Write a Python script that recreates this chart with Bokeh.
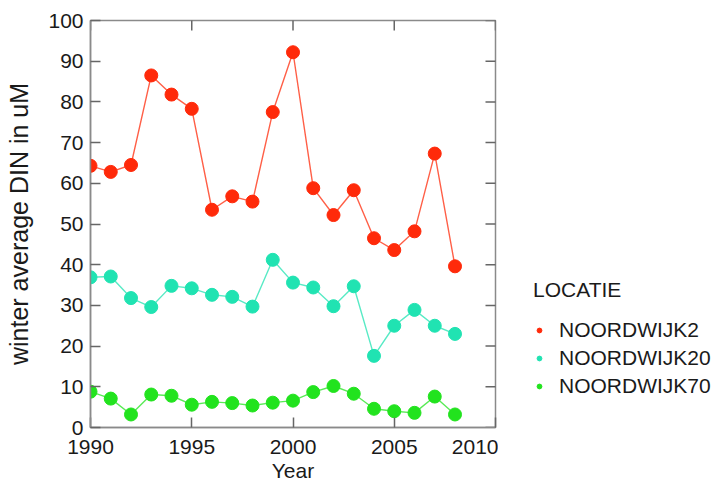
import math
from bokeh.plotting import figure
from bokeh.layouts import row
from bokeh.models import Range1d, FixedTicker, Legend, LegendItem, ColumnDataSource
from bokeh.embed import file_html
from bokeh.resources import INLINE

years = list(range(1990, 2009))
noordwijk2 = [64.3, 62.8, 64.5, 86.5, 81.8, 78.3, 53.5, 56.8, 55.5, 77.5, 92.2,
              58.8, 52.2, 58.3, 46.5, 43.6, 48.2, 67.3, 39.6]
noordwijk20 = [36.9, 37.1, 31.8, 29.6, 34.8, 34.2, 32.6, 32.1, 29.7, 41.2, 35.6,
               34.4, 29.8, 34.7, 17.6, 25.0, 28.9, 25.0, 23.0]
noordwijk70 = [8.8, 7.1, 3.2, 8.1, 7.8, 5.6, 6.3, 6.0, 5.4, 6.1, 6.6,
               8.7, 10.2, 8.3, 4.6, 4.0, 3.6, 7.6, 3.2]
series_names = ["NOORDWIJK2", "NOORDWIJK20", "NOORDWIJK70"]
series_values = [noordwijk2, noordwijk20, noordwijk70]
colors = ["#ff2a0a", "#20e3b2", "#22e31e"]
x_ticks = [1990, 1995, 2000, 2005, 2010]
y_ticks = list(range(0, 101, 10))
x_min, x_max = 1990, 2010
y_min, y_max = 0, 100

FONT = "Liberation Sans"
AXIS_COLOR = "#8a8a8a"
TICK_COLOR = "#666666"

p = figure(width=498, height=487, output_backend="svg", toolbar_location=None,
           x_range=Range1d(x_min, x_max), y_range=Range1d(y_min, y_max),
           min_border_left=90, min_border_top=20, min_border_bottom=60,
           min_border_right=3)
p.grid.visible = False
p.outline_line_color = AXIS_COLOR
p.outline_line_width = 1.5

for ax in (p.xaxis[0], p.yaxis[0]):
    ax.major_tick_in = 10
    ax.major_tick_out = 0
    ax.minor_tick_in = 0
    ax.minor_tick_out = 0
    ax.axis_line_color = AXIS_COLOR
    ax.axis_line_width = 1.5
    ax.major_tick_line_color = TICK_COLOR
    ax.major_tick_line_width = 1.5
    ax.major_label_text_font = FONT
    ax.major_label_text_font_size = "21px"
    ax.major_label_text_color = "#1a1a1a"
    ax.axis_label_text_font = FONT
    ax.axis_label_text_font_style = "normal"
    ax.axis_label_text_color = "#1a1a1a"

p.xaxis[0].ticker = FixedTicker(ticks=x_ticks)
p.yaxis[0].ticker = FixedTicker(ticks=y_ticks)
p.xaxis[0].axis_label = "Year"
p.yaxis[0].axis_label = "winter average DIN in uM"
p.xaxis[0].axis_label_text_font_size = "21px"
p.yaxis[0].axis_label_text_font_size = "25px"
p.xaxis[0].major_label_standoff = 12
p.yaxis[0].major_label_standoff = 7
p.xaxis[0].axis_label_standoff = 2
p.yaxis[0].axis_label_standoff = 12

# mirrored inward ticks on the top and right edges of the frame
p.scatter(x=x_ticks, y=[y_max] * len(x_ticks), marker="dash", size=20, angle=math.pi / 2,
          line_color=TICK_COLOR, line_width=1.5)
p.scatter(x=[x_max] * len(y_ticks), y=y_ticks, marker="dash", size=20,
          line_color=TICK_COLOR, line_width=1.5)

for name, vals, c in zip(series_names, series_values, colors):
    src = ColumnDataSource(dict(x=years, y=vals))
    p.line("x", "y", source=src, line_color=c, line_width=1.4, line_alpha=0.75)
    p.scatter("x", "y", source=src, size=13, fill_color=c, line_color=c)

# legend panel (its ranges keep the proxy markers out of view)
p2 = figure(width=226, height=487, output_backend="svg", toolbar_location=None,
            x_range=Range1d(0, 1), y_range=Range1d(0, 1), min_border=0)
p2.axis.visible = False
p2.grid.visible = False
p2.outline_line_color = None
items = []
for name, vals, c in zip(series_names, series_values, colors):
    r = p2.scatter(x=years, y=vals, size=13, fill_color=c, line_color=c)
    items.append(LegendItem(label=name, renderers=[r]))

legend = Legend(items=items, title="LOCATIE", location=(35, 29),
                border_line_color=None, background_fill_alpha=0,
                label_text_font=FONT, label_text_font_size="21px", label_text_color="#1a1a1a",
                title_text_font=FONT, title_text_font_size="21px", title_text_font_style="normal",
                title_text_color="#1a1a1a", title_standoff=16,
                glyph_width=12, glyph_height=12, label_standoff=14, spacing=4,
                label_height=24, margin=0, padding=0)
p2.add_layout(legend, "center")

open("out.html", "w").write(file_html(row(p, p2), INLINE))
